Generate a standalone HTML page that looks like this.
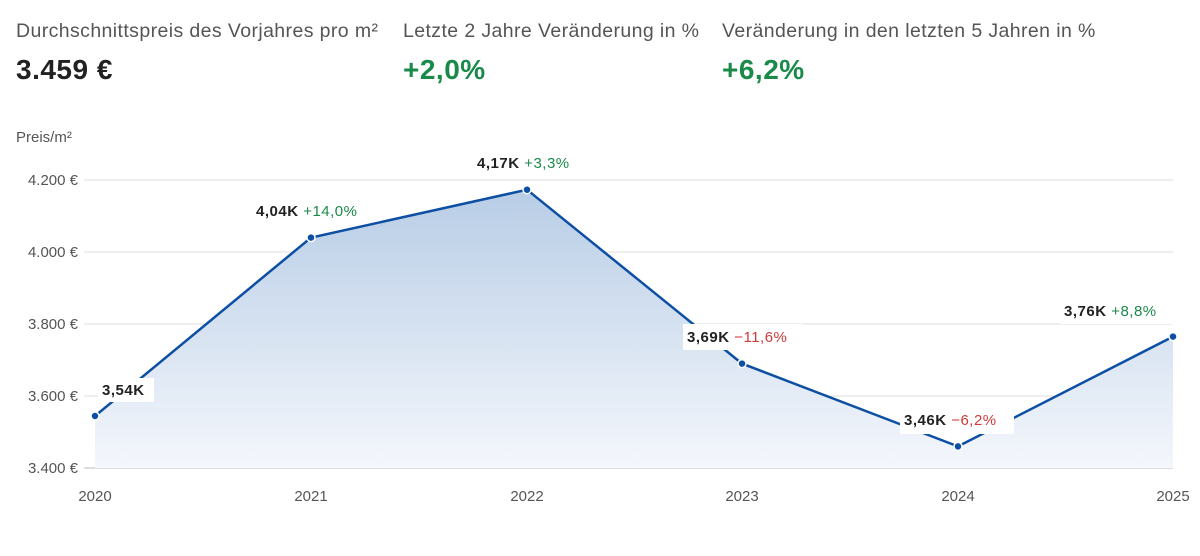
<!DOCTYPE html><html><head><style>
body{margin:0;background:#fff;width:1200px;height:556px;overflow:hidden;font-family:"Liberation Sans",sans-serif}
.h{position:absolute;top:20px;font-size:19.5px;color:#555;letter-spacing:0.4px}
.v{position:absolute;top:54px;font-size:28px;font-weight:bold;letter-spacing:0.5px}
</style></head><body>
<div class="h" style="left:16px">Durchschnittspreis des Vorjahres pro m²</div>
<div class="h" style="left:403px">Letzte 2 Jahre Veränderung in %</div>
<div class="h" style="left:722px">Veränderung in den letzten 5 Jahren in %</div>
<div class="v" style="left:16px;color:#222">3.459 €</div>
<div class="v" style="left:403px;color:#1a8a4a">+2,0%</div>
<div class="v" style="left:722px;color:#1a8a4a">+6,2%</div>
<svg width="1200" height="556" style="position:absolute;left:0;top:0" font-family="Liberation Sans, sans-serif">
<defs><linearGradient id="g" x1="0" y1="0" x2="0" y2="1"><stop offset="0" stop-color="#b8cde6"/><stop offset="1" stop-color="#f4f7fc"/></linearGradient></defs>
<text x="16" y="142" font-size="15" fill="#555">Preis/m²</text>
<g stroke="#ddd" stroke-width="1">
<line x1="84" x2="1173" y1="180" y2="180"/><line x1="84" x2="1173" y1="252" y2="252"/><line x1="84" x2="1173" y1="324" y2="324"/><line x1="84" x2="1173" y1="396" y2="396"/><line x1="84" x2="1173" y1="468" y2="468" stroke="#bbb"/></g>
<g font-size="15" fill="#555" text-anchor="end"><text x="78" y="185">4.200 €</text><text x="78" y="257">4.000 €</text><text x="78" y="329">3.800 €</text><text x="78" y="401">3.600 €</text><text x="78" y="473">3.400 €</text></g>
<g font-size="15" fill="#555" text-anchor="middle"><text x="95" y="501">2020</text><text x="311" y="501">2021</text><text x="527" y="501">2022</text><text x="742" y="501">2023</text><text x="958" y="501">2024</text><text x="1173" y="501">2025</text></g>
<polygon points="95,416 311,237.6 527,189.7 742,363.6 958,446.4 1173,336.6 1173,468 95,468" fill="url(#g)"/>
<polyline points="95,416 311,237.6 527,189.7 742,363.6 958,446.4 1173,336.6" fill="none" stroke="#0d4fa3" stroke-width="2.5"/>
<g fill="#0d4fa3" stroke="#fff" stroke-width="1.5"><circle cx="95" cy="416" r="4"/><circle cx="311" cy="237.6" r="4"/><circle cx="527" cy="189.7" r="4"/><circle cx="742" cy="363.6" r="4"/><circle cx="958" cy="446.4" r="4"/><circle cx="1173" cy="336.6" r="4"/></g>
<g font-size="15" letter-spacing="0.5">
<rect x="98" y="378" width="56" height="24" fill="#fff"/><text x="102" y="395" font-weight="bold" fill="#222">3,54K</text>
<rect x="252" y="198" width="120" height="24" fill="#fff"/><text x="256" y="216"><tspan font-weight="bold" fill="#222">4,04K</tspan><tspan fill="#1a8a4a"> +14,0%</tspan></text>
<text x="477" y="168"><tspan font-weight="bold" fill="#222">4,17K</tspan><tspan fill="#1a8a4a"> +3,3%</tspan></text>
<rect x="683" y="324" width="120" height="26" fill="#fff"/><text x="687" y="342"><tspan font-weight="bold" fill="#222">3,69K</tspan><tspan fill="#d03a3a"> −11,6%</tspan></text>
<rect x="900" y="408" width="114" height="26" fill="#fff"/><text x="904" y="425"><tspan font-weight="bold" fill="#222">3,46K</tspan><tspan fill="#d03a3a"> −6,2%</tspan></text>
<rect x="1060" y="298" width="114" height="26" fill="#fff"/><text x="1064" y="316"><tspan font-weight="bold" fill="#222">3,76K</tspan><tspan fill="#1a8a4a"> +8,8%</tspan></text>
</g>
</svg>
</body></html>
